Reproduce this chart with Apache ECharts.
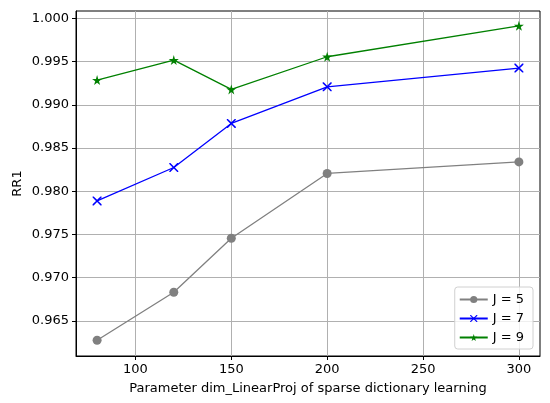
<!DOCTYPE html>
<html>
<head>
<meta charset="utf-8">
<script src="https://cdn.jsdelivr.net/npm/echarts@6/dist/echarts.min.js"></script>
<style>html,body{margin:0;padding:0;background:#fff}#c{width:550px;height:403px}</style>
</head>
<body>
<div id="c"></div>
<script>
const xValues = [80, 120, 150, 200, 300];
const seriesNames = ['J = 5', 'J = 7', 'J = 9'];
const j5 = [0.96277, 0.96832, 0.97457, 0.98206, 0.98340];
const j7 = [0.97889, 0.98275, 0.98785, 0.99208, 0.99425];
const j9 = [0.99286, 0.99517, 0.99178, 0.99556, 0.99914];
const xTicks = [100, 150, 200, 250, 300];
const yTicks = [0.965, 0.970, 0.975, 0.980, 0.985, 0.990, 0.995, 1.000];

const font = 'DejaVu Sans';
const xPath = 'path://M0,0 L1.2,0 L5,3.8 L8.8,0 L10,0 L10,1.2 L6.2,5 L10,8.8 L10,10 L8.8,10 L5,6.2 L1.2,10 L0,10 L0,8.8 L3.8,5 L0,1.2 Z';
const starPath = 'path://M50,0 L61,35 L98,35 L68,57 L79,91 L50,70 L21,91 L32,57 L2,35 L39,35 Z';

function pairs(ys) { return xValues.map((x, i) => [x, ys[i]]); }

const chart = echarts.init(document.getElementById('c'), null, {renderer: 'canvas'});
chart.setOption({
  animation: false,
  backgroundColor: '#fff',
  textStyle: {fontFamily: font},
  grid: {left: 76, right: 10, top: 11, bottom: 47, show: true, borderColor: '#000', borderWidth: 1, backgroundColor: 'transparent', containLabel: false},
  xAxis: {
    type: 'value', min: 69, max: 311,
    name: 'Parameter dim_LinearProj of sparse dictionary learning',
    nameLocation: 'middle', nameGap: 26, nameMoveOverlap: false,
    nameTextStyle: {color: '#000', fontSize: 13, fontFamily: font},
    axisLine: {show: true, lineStyle: {color: '#000', width: 1}},
    axisTick: {show: true, length: 4, lineStyle: {color: '#000'}, customValues: xTicks},
    axisLabel: {color: '#000', fontSize: 13, fontFamily: font, margin: 7, customValues: xTicks},
    splitLine: {show: true, lineStyle: {color: '#b0b0b0', width: 1}}
  },
  yAxis: {
    type: 'value', min: 0.96095, max: 1.00085,
    name: 'RR1',
    nameLocation: 'middle', nameGap: 52, nameMoveOverlap: false,
    nameTextStyle: {color: '#000', fontSize: 13, fontFamily: font},
    axisLine: {show: true, lineStyle: {color: '#000', width: 1}},
    axisTick: {show: true, length: 4, lineStyle: {color: '#000'}, customValues: yTicks},
    axisLabel: {color: '#000', fontSize: 13, fontFamily: font, margin: 7, customValues: yTicks,
      formatter: v => v.toFixed(3)},
    splitLine: {show: true, lineStyle: {color: '#b0b0b0', width: 1}}
  },
  legend: {
    right: 17, bottom: 54, orient: 'vertical',
    itemWidth: 28, itemHeight: 9, itemGap: 6,
    padding: [6, 9, 5, 4],
    borderColor: '#d0d0d0', borderWidth: 1, borderRadius: 3,
    backgroundColor: 'rgba(255,255,255,0.8)',
    textStyle: {color: '#000', fontSize: 13, fontFamily: font},
    data: seriesNames
  },
  series: [
    {name: seriesNames[0], type: 'line', data: pairs(j5), symbol: 'circle', symbolSize: 9,
      lineStyle: {color: '#808080', width: 1.3}, itemStyle: {color: '#808080'}},
    {name: seriesNames[1], type: 'line', data: pairs(j7), symbol: xPath, symbolSize: 9,
      lineStyle: {color: '#0000ff', width: 1.3}, itemStyle: {color: '#0000ff'}},
    {name: seriesNames[2], type: 'line', data: pairs(j9), symbol: starPath, symbolSize: 10,
      lineStyle: {color: '#008000', width: 1.3}, itemStyle: {color: '#008000'}}
  ]
});
</script>
</body>
</html>
